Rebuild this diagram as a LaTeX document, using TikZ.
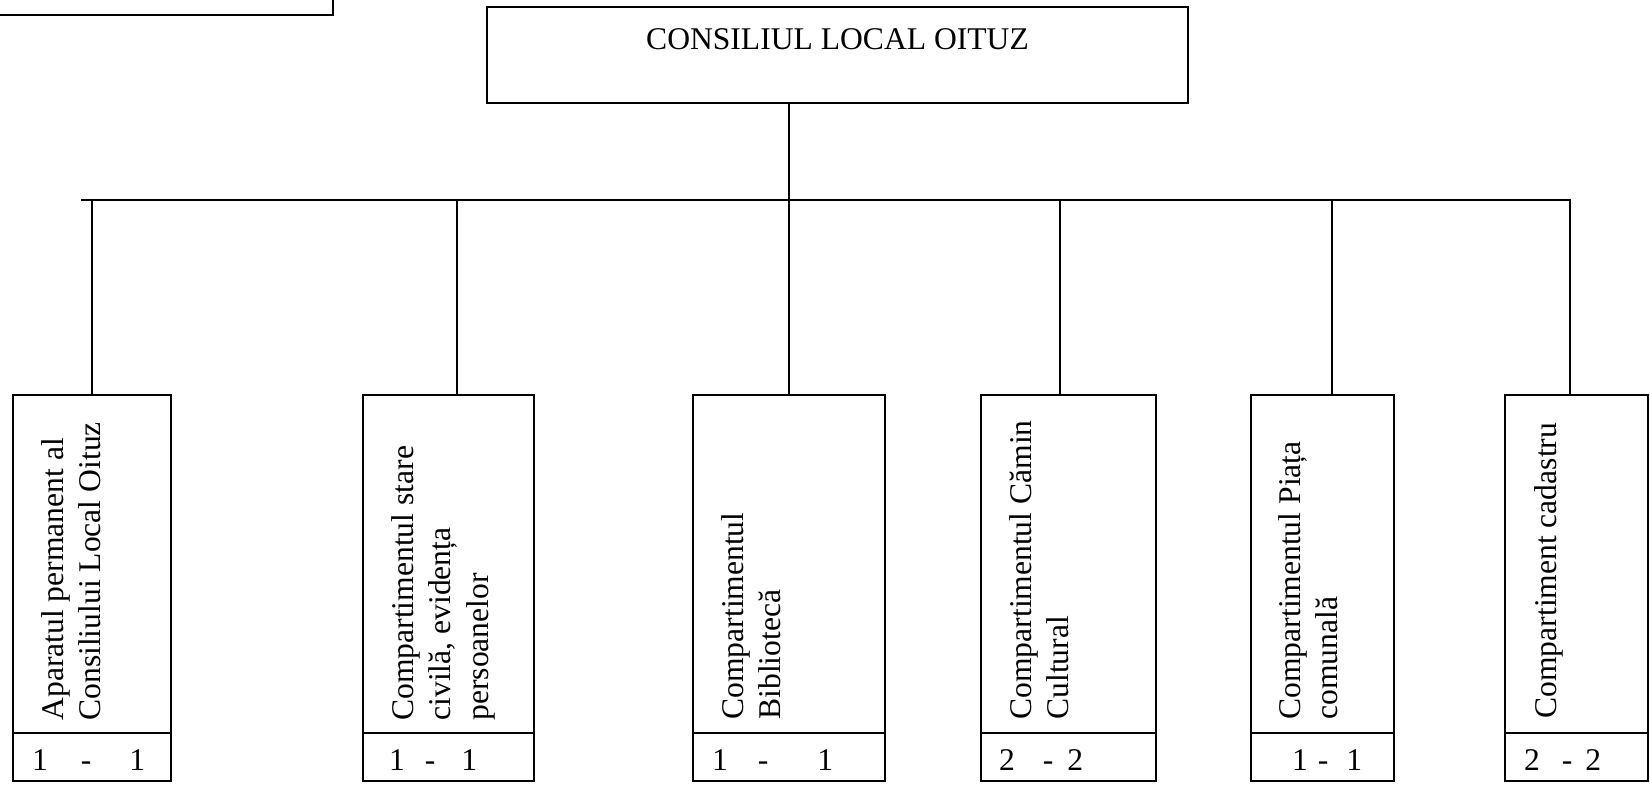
\documentclass[tikz,border=0pt]{standalone}
\usepackage{fontspec}
\setmainfont{Liberation Serif}
\usetikzlibrary{positioning,calc}

\newcommand{\boxfont}{\fontsize{15.8}{18.75}\selectfont}

\tikzset{
	unit/.style={draw, line width=1pt, outer sep=0pt, inner sep=0pt, minimum height=169pt, anchor=north west},
	cell/.style={draw, line width=1pt, outer sep=0pt, inner sep=0pt, align=left, text height=18.5pt, text depth=5.5pt, font=\boxfont},
	vtext/.style={rotate=90, anchor=north west, inner sep=0pt, align=left, font=\boxfont}
}

\begin{document}
\begin{tikzpicture}[x=0.5pt,y=-0.5pt]
		\clip (0,0) rectangle (1650,785);
		\node[draw, line width=1pt, outer sep=0pt, anchor=south east, minimum width=200pt, minimum height=40pt] (corner) at (333,15) {};
		\node[draw, line width=1pt, outer sep=0pt, inner sep=0pt, anchor=north west, minimum width=350.5pt, text height=21.5pt, text depth=26.5pt, font=\boxfont] (council) at (487,7) {CONSILIUL LOCAL OITUZ};
		% boxes
		\node[unit, minimum width=79pt] (b1) at (13,395) {};
		\node[unit, minimum width=85.5pt] (b2) at (363,395) {};
		\node[unit, minimum width=96pt] (b3) at (693,395) {};
		\node[unit, minimum width=87.5pt] (b4) at (981,395) {};
		\node[unit, minimum width=71.5pt] (b5) at (1251,395) {};
		\node[unit, minimum width=71.5pt] (b6) at (1505,395) {};
		% names
		\node[vtext] (t1) at ($(b1.south west)+(28,-12)$) {Aparatul permanent al\\Consiliului Local Oituz};
		\node[vtext] (t2) at ($(b2.south west)+(28,-12)$) {Compartimentul stare\\civilă, evidența\\persoanelor};
		\node[vtext] (t3) at ($(b3.south west)+(28,-13)$) {Compartimentul\\Bibliotecă};
		\node[vtext] (t4) at ($(b4.south west)+(28,-13)$) {Compartimentul Cămin\\Cultural};
		\node[vtext] (t5) at ($(b5.south west)+(27,-13)$) {Compartimentul Piața\\comunală};
		\node[vtext] (t6) at ($(b6.south west)+(29,-14)$) {Compartiment cadastru};
		% posts
		\node[cell, text width=79pt, below=0pt of b1] (n1) {\hspace*{9.5pt}1\hspace{16.5pt}-\hspace{19pt}1};
		\node[cell, text width=85.5pt, below=0pt of b2] (n2) {\hspace*{13pt}1\hspace{10pt}-\hspace{13pt}1};
		\node[cell, text width=96pt, below=0pt of b3] (n3) {\hspace*{9.5pt}1\hspace{15pt}-\hspace{24.5pt}1};
		\node[cell, text width=87.5pt, below=0pt of b4] (n4) {\hspace*{9pt}2\hspace{14pt}-\hspace{7pt}2};
		\node[cell, text width=71.5pt, below=0pt of b5] (n5) {\hspace*{20.5pt}1\hspace{5pt}-\hspace{9pt}1};
		\node[cell, text width=71.5pt, below=0pt of b6] (n6) {\hspace*{9.5pt}2\hspace{11pt}-\hspace{6.5pt}2};
		% bus and drops
		\coordinate (busL) at (81,200);
		\coordinate (busR) at (1571,200);
		\draw[line width=1pt] (busL) -- (busR);
		\foreach \i/\x in {1/92,2/457,3/789,4/1060,5/1332,6/1570}
		\coordinate (d\i) at (\x,200);
		\foreach \i in {1,...,6}
		\draw[line width=1pt] (d\i) -- (d\i |- b\i.north);
		\draw[line width=1pt] (d3 |- council.south) -- (d3);
\end{tikzpicture}
\end{document}
